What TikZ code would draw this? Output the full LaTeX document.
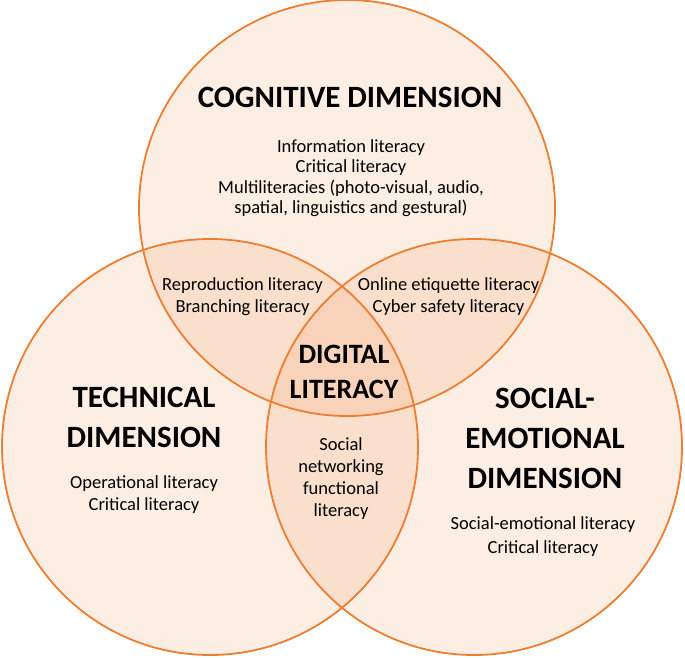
\documentclass[tikz,border=0pt]{standalone}
\usepackage{fontspec}
\setmainfont{Carlito}
\definecolor{vennorange}{HTML}{ED7D31}
\tikzset{
  venn/.style={draw=vennorange, line width=1.8pt, fill=vennorange, fill opacity=0.13},
  dimtitle/.style={font=\fontsize{31}{40}\selectfont\bfseries, align=center, inner sep=0pt},
  coretitle/.style={font=\fontsize{28}{35}\selectfont\bfseries, align=center, inner sep=0pt},
  skill/.style={font=\fontsize{18.5}{22}\selectfont, align=center, inner sep=0pt}
}
\begin{document}
\begin{tikzpicture}[x=1pt,y=-1pt, line join=round, line cap=round]
    \useasboundingbox (0,0) rectangle (685,657);
    % three dimensions
    \foreach \cx/\cy in {347/208,210/447,474/447}
    \draw[venn] (\cx,\cy) circle (208);
    % cognitive
    \node[dimtitle] (cogtitle) at (350,97.5) {COGNITIVE DIMENSION};
    \node[skill, font=\fontsize{18.5}{20.5}\selectfont] (coglist) at (351,178) {Information literacy\\Critical literacy\\Multiliteracies (photo-visual, audio,\\spatial, linguistics and gestural)};
    % overlaps
    \node[skill] (cogtech) at (242.5,296.5) {Reproduction literacy\\Branching literacy};
    \node[skill] (cogsoc) at (448.5,296.5) {Online etiquette literacy\\Cyber safety literacy};
    \node[skill] (techsoc) at (341,479) {Social\\networking\\functional\\literacy};
    \node[coretitle] (core) at (344,371.5) {DIGITAL\\LITERACY};
    % technical
    \node[dimtitle] (techtitle) at (144,417) {TECHNICAL\\DIMENSION};
    \node[skill] (techlist) at (144,494.5) {Operational literacy\\Critical literacy};
    % social-emotional
    \node[dimtitle] (soctitle) at (545,438) {SOCIAL-\\EMOTIONAL\\DIMENSION};
    \node[skill, font=\fontsize{18.5}{24}\selectfont] (soclist) at (543,537) {Social-emotional literacy\\Critical literacy};
\end{tikzpicture}
\end{document}
